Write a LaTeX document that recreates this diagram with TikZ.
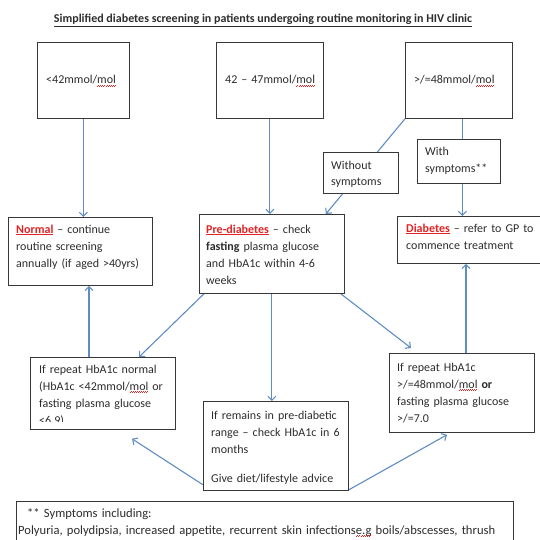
\documentclass[tikz,border=0pt]{standalone}
\usepackage{fontspec}
\setmainfont{Carlito}
\usetikzlibrary{arrows.meta,calc}
\definecolor{arrc}{RGB}{95,140,195}
\definecolor{boxc}{RGB}{55,55,55}
\definecolor{txtc}{RGB}{45,45,45}
\definecolor{redc}{RGB}{225,35,35}
\newsavebox\sqbox
\newcommand\sqw[1]{\sbox\sqbox{#1}\rlap{\usebox\sqbox}\textcolor{redc}{\raisebox{-2.6pt}{\hbox to \wd\sqbox{\xleaders\hbox{\rule{1pt}{0.6pt}\raisebox{0.7pt}{\rule{1pt}{0.6pt}}}\hfill}}}}
\newcommand\rb[1]{\textcolor{redc}{\underline{\textbf{#1}}}}
\pgfdeclarelayer{bg}
\pgfsetlayers{bg,main}
\begin{document}
\begin{tikzpicture}[x=1pt,y=-1pt,
  box/.style={draw=boxc, line width=0.8pt, fill=white, inner sep=0pt, anchor=north west},
  txt/.style={inner sep=0pt, anchor=base west, align=left, text width=150pt, text=txtc, font=\fontsize{12}{17}\selectfont},
  arr/.style={draw=arrc, line width=1.1pt, -{Straight Barb[length=4pt,width=8pt]}}]
\useasboundingbox (0,0) rectangle (539,540);

\node[font=\bfseries\fontsize{12}{14}\selectfont, text=txtc, anchor=base, inner sep=0pt] (title) at (263,23) {\underline{Simplified diabetes screening in patients undergoing routine monitoring in HIV clinic}};

% boxes
\node[box, minimum width=92pt, minimum height=76pt] (t1) at (37,42) {};
\node[box, minimum width=107pt, minimum height=76pt] (t2) at (216,42) {};
\node[box, minimum width=107pt, minimum height=76pt] (t3) at (405,42) {};
\node[box, minimum width=75pt, minimum height=41pt] (wo) at (323,152) {};
\node[box, minimum width=83pt, minimum height=44pt] (wi) at (417,139) {};
\node[box, minimum width=144pt, minimum height=68pt] (nor) at (8,217) {};
\node[box, minimum width=145pt, minimum height=79pt] (pre) at (199,214) {};
\node[box, minimum width=146pt, minimum height=47pt] (dia) at (397,216) {};
\node[box, minimum width=145pt, minimum height=72pt] (ll) at (30,357) {};
\node[box, minimum width=145pt, minimum height=89pt] (mid) at (203,401) {};
\node[box, minimum width=145pt, minimum height=79pt] (rl) at (389,353) {};
\node[box, minimum width=497pt, minimum height=60pt] (foot) at (16,501) {};

% texts
\node[txt] (t1x) at ($(t1.north west)+(9,42)$) {<42mmol/\sqw{mol}};
\node[txt] (t2x) at ($(t2.north west)+(9,42)$) {42 -- 47mmol/\sqw{mol}};
\node[txt] (t3x) at ($(t3.north west)+(9,42)$) {>/=48mmol/\sqw{mol}};
\node[txt] (wox) at ($(wo.north west)+(8,17)$) {Without\\symptoms};
\node[txt] (wix) at ($(wi.north west)+(8,17)$) {With\\symptoms**};
\node[txt] (norx) at ($(nor.north west)+(8,16)$) {\rb{Normal} -- continue\\routine screening\\annually (if aged >40yrs)};
\node[txt] (prex) at ($(pre.north west)+(7,19)$) {\rb{Pre-diabetes} -- check\\\textbf{fasting} plasma glucose\\and HbA1c within 4-6\\weeks};
\node[txt] (diax) at ($(dia.north west)+(9,16)$) {\rb{Diabetes} -- refer to GP to\\commence treatment};
\begin{scope}
\clip (ll.north west) rectangle ([yshift=8.5pt]ll.south east);
\node[txt] (llx) at ($(ll.north west)+(9,16)$) {If repeat HbA1c normal\\(HbA1c <42mmol/\sqw{mol} or\\fasting plasma glucose\\<6.9)};
\end{scope}
\node[txt] (midx) at ($(mid.north west)+(8,18)$) {If remains in pre-diabetic\\range -- check HbA1c in 6\\months\\[12pt]Give diet/lifestyle advice};
\node[txt] (rlx) at ($(rl.north west)+(8,18)$) {If repeat HbA1c\\>/=48mmol/\sqw{mol} \textbf{or}\\fasting plasma glucose\\>/=7.0};
\node[txt, text width=495pt, font=\fontsize{12.6}{17}\selectfont] (footx) at ($(foot.north west)+(2,16)$) {\hspace*{9pt}** Symptoms including:\\Polyuria, polydipsia, increased appetite, recurrent skin infections\sqw{e.g} boils/abscesses, thrush};

% connectors
\begin{pgfonlayer}{bg}
\coordinate (t3a) at ($(t3.south)+(3.5,0)$);
\coordinate (lla) at ($(ll.north west)+(59,0)$);
\coordinate (rla) at ($(rl.north west)+(77,0)$);
\coordinate (wotip) at ($(pre.north east)+(-19,0)$);
\coordinate (lltip) at ($(ll.north west)+(109,0)$);
\coordinate (rltip) at ($(rl.north west)+(22,-5)$);
\coordinate (llbtip) at ($(ll.south west)+(102,9)$);
\coordinate (rlbtip) at ($(rl.south west)+(58,2)$);
\draw[arr] (t1.south) -- (t1.south |- nor.north);
\draw[arr] (t2.south) -- (t2.south |- pre.north);
\draw[arr] (t3a) -- (t3a |- dia.north);
\draw[arr] (t3.south west) -- (wotip);
\draw[arr] ($(pre.south west)+(5,0)$) -- (lltip);
\draw[arr] (pre.south) -- (pre.south |- mid.north);
\draw[arr] ($(pre.south east)+(-4,0)$) -- (rltip);
\draw[arr] (lla) -- (lla |- nor.south);
\draw[arr] (rla) -- (rla |- dia.south);
\draw[arr] ($(mid.south west)+(0,-6)$) -- (llbtip);
\draw[arr] ($(mid.south east)+(0,-1)$) -- (rlbtip);
\end{pgfonlayer}
\end{tikzpicture}
\end{document}
